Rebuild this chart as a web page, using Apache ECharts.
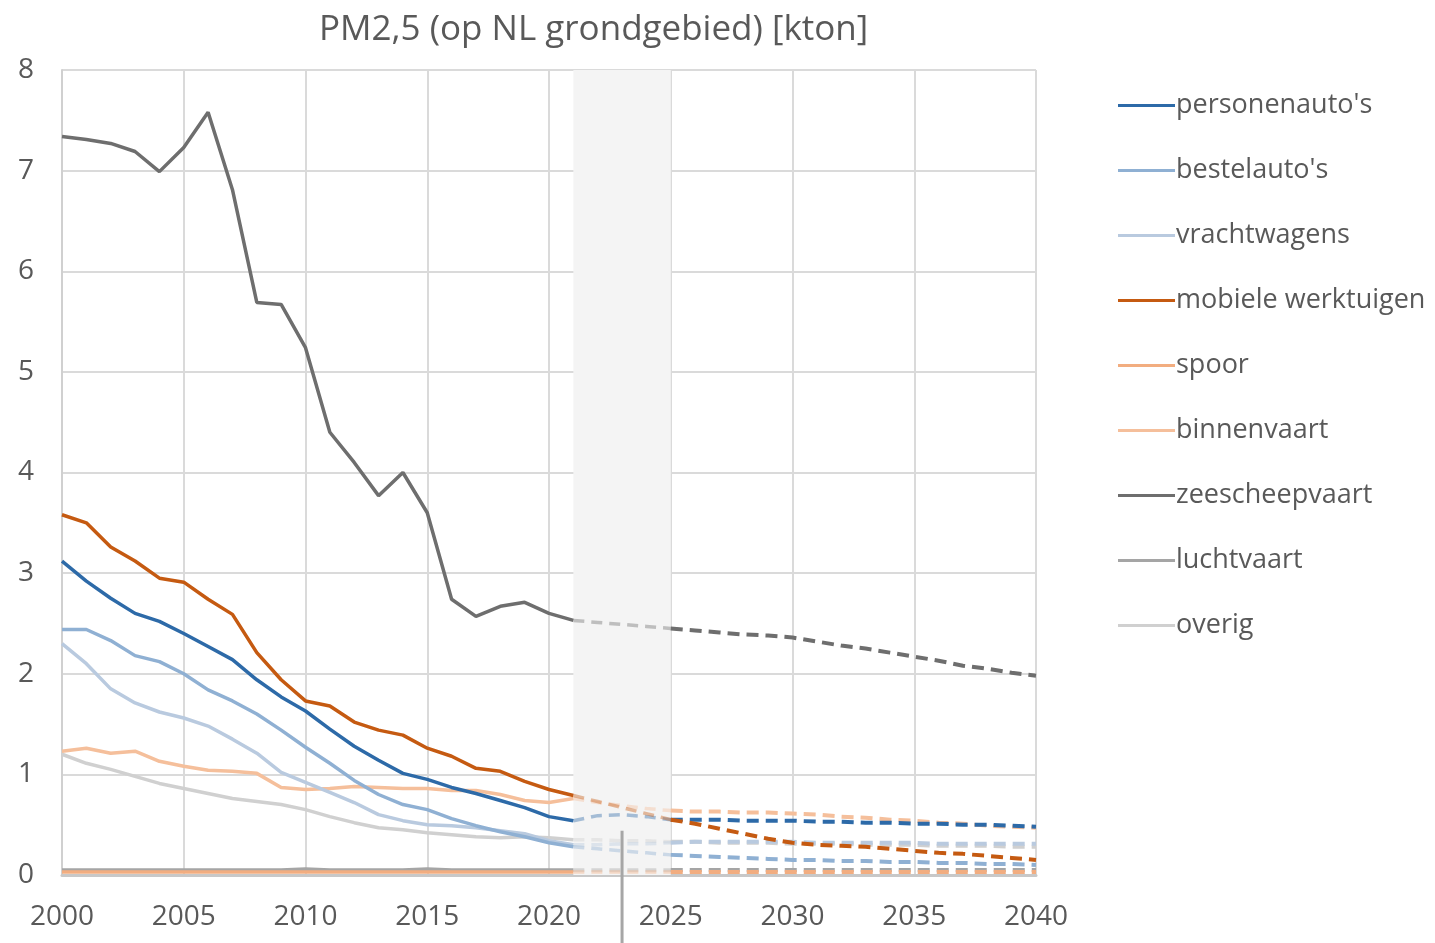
<!DOCTYPE html>
<html>
<head>
<meta charset="utf-8">
<script src="https://cdn.jsdelivr.net/npm/echarts@6/dist/echarts.min.js"></script>
<style>
  html, body { margin: 0; padding: 0; background: #fff; }
  #chart { width: 1435px; height: 943px; }
</style>
</head>
<body>
<div id="chart"></div>
<script>
  const histYears = [2000, 2001, 2002, 2003, 2004, 2005, 2006, 2007, 2008, 2009, 2010,
    2011, 2012, 2013, 2014, 2015, 2016, 2017, 2018, 2019, 2020, 2021];
  const projYears = [2021, 2022, 2023, 2024, 2025, 2026, 2027, 2028, 2029, 2030,
    2031, 2032, 2033, 2034, 2035, 2036, 2037, 2038, 2039, 2040];
  const yTicks = [0, 1, 2, 3, 4, 5, 6, 7, 8];

  // historical values 2000-2021 [kton]
  const personenautosHist = [3.12, 2.92, 2.75, 2.60, 2.52, 2.40, 2.27, 2.14, 1.94, 1.77, 1.63,
    1.45, 1.28, 1.14, 1.01, 0.95, 0.87, 0.81, 0.74, 0.67, 0.58, 0.54];
  const bestelautosHist = [2.44, 2.44, 2.33, 2.18, 2.12, 2.00, 1.84, 1.73, 1.60, 1.44, 1.27,
    1.11, 0.94, 0.80, 0.70, 0.65, 0.56, 0.49, 0.43, 0.38, 0.32, 0.28];
  const vrachtwagensHist = [2.30, 2.10, 1.85, 1.71, 1.62, 1.56, 1.48, 1.35, 1.21, 1.02, 0.92,
    0.82, 0.72, 0.60, 0.54, 0.50, 0.49, 0.47, 0.44, 0.41, 0.34, 0.30];
  const mobieleHist = [3.58, 3.50, 3.26, 3.12, 2.95, 2.91, 2.74, 2.59, 2.21, 1.94, 1.73,
    1.68, 1.52, 1.44, 1.39, 1.26, 1.18, 1.06, 1.03, 0.93, 0.85, 0.79];
  const spoorHist = [0.03, 0.03, 0.03, 0.03, 0.03, 0.03, 0.03, 0.03, 0.03, 0.03, 0.03,
    0.03, 0.03, 0.03, 0.03, 0.03, 0.03, 0.03, 0.03, 0.03, 0.03, 0.03];
  const binnenvaartHist = [1.23, 1.26, 1.21, 1.23, 1.13, 1.08, 1.04, 1.03, 1.01, 0.87, 0.85,
    0.86, 0.88, 0.87, 0.86, 0.86, 0.84, 0.84, 0.80, 0.74, 0.72, 0.76];
  const zeescheepvaartHist = [7.34, 7.31, 7.27, 7.19, 6.99, 7.23, 7.58, 6.81, 5.69, 5.67, 5.24,
    4.40, 4.10, 3.77, 4.00, 3.60, 2.74, 2.57, 2.67, 2.71, 2.60, 2.53];
  const luchtvaartHist = [0.05, 0.05, 0.05, 0.05, 0.05, 0.05, 0.05, 0.05, 0.05, 0.05, 0.06,
    0.05, 0.05, 0.05, 0.05, 0.06, 0.05, 0.05, 0.05, 0.05, 0.05, 0.05];
  const overigHist = [1.20, 1.11, 1.05, 0.98, 0.91, 0.86, 0.81, 0.76, 0.73, 0.70, 0.65,
    0.58, 0.52, 0.47, 0.45, 0.42, 0.40, 0.38, 0.37, 0.38, 0.37, 0.35];

  // projection 2021-2040 [kton]
  const personenautosProj = [0.54, 0.59, 0.60, 0.58, 0.55, 0.55, 0.55, 0.54, 0.54, 0.54,
    0.53, 0.53, 0.52, 0.52, 0.51, 0.51, 0.50, 0.50, 0.49, 0.48];
  const bestelautosProj = [0.28, 0.26, 0.24, 0.22, 0.20, 0.19, 0.18, 0.17, 0.16, 0.15,
    0.15, 0.14, 0.14, 0.13, 0.13, 0.12, 0.12, 0.11, 0.11, 0.10];
  const vrachtwagensProj = [0.30, 0.30, 0.31, 0.31, 0.32, 0.33, 0.33, 0.33, 0.33, 0.33,
    0.32, 0.32, 0.32, 0.32, 0.32, 0.31, 0.31, 0.31, 0.31, 0.31];
  const mobieleProj = [0.79, 0.73, 0.67, 0.61, 0.55, 0.51, 0.46, 0.41, 0.36, 0.32,
    0.30, 0.29, 0.28, 0.26, 0.24, 0.22, 0.21, 0.19, 0.17, 0.15];
  const spoorProj = [0.03, 0.03, 0.03, 0.03, 0.03, 0.03, 0.03, 0.03, 0.03, 0.03,
    0.03, 0.03, 0.03, 0.03, 0.03, 0.03, 0.03, 0.03, 0.03, 0.03];
  const binnenvaartProj = [0.76, 0.72, 0.69, 0.66, 0.64, 0.63, 0.63, 0.62, 0.62, 0.61,
    0.60, 0.58, 0.57, 0.55, 0.54, 0.52, 0.51, 0.49, 0.48, 0.47];
  const zeescheepvaartProj = [2.53, 2.51, 2.49, 2.47, 2.45, 2.43, 2.41, 2.39, 2.38, 2.36,
    2.32, 2.28, 2.25, 2.21, 2.17, 2.13, 2.08, 2.05, 2.01, 1.98];
  const luchtvaartProj = [0.05, 0.05, 0.05, 0.05, 0.05, 0.05, 0.05, 0.05, 0.05, 0.05,
    0.05, 0.05, 0.05, 0.05, 0.05, 0.05, 0.05, 0.05, 0.05, 0.05];
  const overigProj = [0.35, 0.35, 0.34, 0.34, 0.33, 0.33, 0.32, 0.32, 0.32, 0.31,
    0.31, 0.31, 0.30, 0.30, 0.30, 0.29, 0.29, 0.29, 0.28, 0.28];

  const bandStart = 2021;
  const bandEnd = 2025;
  const markerYear = 2023;

  const categories = [
    { name: "personenauto's", color: '#2d6aa8', hist: personenautosHist, proj: personenautosProj },
    { name: "bestelauto's", color: '#8fb0d3', hist: bestelautosHist, proj: bestelautosProj },
    { name: 'vrachtwagens', color: '#b9cadf', hist: vrachtwagensHist, proj: vrachtwagensProj },
    { name: 'mobiele werktuigen', color: '#c55a11', hist: mobieleHist, proj: mobieleProj },
    { name: 'spoor', color: '#f2ad80', hist: spoorHist, proj: spoorProj },
    { name: 'binnenvaart', color: '#f5bf9b', hist: binnenvaartHist, proj: binnenvaartProj },
    { name: 'zeescheepvaart', color: '#6e6e6e', hist: zeescheepvaartHist, proj: zeescheepvaartProj },
    { name: 'luchtvaart', color: '#a5a5a5', hist: luchtvaartHist, proj: luchtvaartProj },
    { name: 'overig', color: '#d0d0d0', hist: overigHist, proj: overigProj },
  ];

  const fontFamily = 'Open Sans';
  const textColor = '#595959';

  const chart = echarts.init(document.getElementById('chart'));

  const series = [
    {
      name: 'band',
      type: 'line',
      data: [],
      z: 1,
      markArea: {
        silent: true,
        itemStyle: { color: '#f4f4f4' },
        data: [[{ xAxis: bandStart }, { xAxis: bandEnd }]],
      },
    },
  ];

  // draw lower lines first, so the darker ones end on top
  const drawOrder = [8, 7, 4, 5, 2, 1, 0, 3, 6];
  drawOrder.forEach((idx) => {
    const c = categories[idx];
    const bandIdx = projYears.indexOf(bandEnd);
    series.push({
      name: c.name,
      type: 'line',
      symbol: 'none',
      z: 3,
      lineStyle: { color: c.color, width: 3.5 },
      itemStyle: { color: c.color },
      data: histYears.map((y, i) => [y, c.hist[i]]),
    });
    series.push({
      name: c.name + ' (overgang)',
      type: 'line',
      symbol: 'none',
      z: 2,
      lineStyle: { color: c.color, width: 3.5, type: [11, 7], opacity: 0.4 },
      data: projYears.slice(0, bandIdx + 1).map((y, i) => [y, c.proj[i]]),
    });
    series.push({
      name: c.name + ' (prognose)',
      type: 'line',
      symbol: 'none',
      z: 3,
      lineStyle: { color: c.color, width: 4, type: [12, 7] },
      data: projYears.slice(bandIdx).map((y, i) => [y, c.proj[bandIdx + i]]),
    });
  });

  chart.setOption({
    animation: false,
    backgroundColor: '#fff',
    title: {
      text: 'PM2,5 (op NL grondgebied) [kton]',
      left: 314,
      top: 8,
      textStyle: { fontFamily, fontSize: 35, fontWeight: 'normal', color: textColor },
    },
    legend: {
      data: categories.map((c) => c.name),
      orient: 'vertical',
      left: 1113,
      top: 87,
      icon: 'rect',
      itemWidth: 57,
      itemHeight: 3,
      itemGap: 38,
      textStyle: { fontFamily, fontSize: 27, color: textColor, padding: [0, 0, 0, -4] },
    },
    grid: { left: 62, right: 399, top: 70, bottom: 68 },
    xAxis: {
      type: 'value',
      min: 2000,
      max: 2040,
      interval: 5,
      axisLine: { show: true, lineStyle: { color: '#c8c8c8', width: 3 } },
      axisTick: { show: false },
      axisLabel: { fontFamily, fontSize: 28, color: textColor, margin: 28, formatter: (v) => String(v) },
      splitLine: { show: true, lineStyle: { color: '#dadada', width: 2 } },
    },
    yAxis: {
      type: 'value',
      min: yTicks[0],
      max: yTicks[yTicks.length - 1],
      interval: 1,
      axisLine: { show: true, lineStyle: { color: '#d0d0d0', width: 2 } },
      axisTick: { show: false },
      axisLabel: { fontFamily, fontSize: 28, color: textColor, margin: 28 },
      splitLine: { show: true, lineStyle: { color: '#dadada', width: 2 } },
    },
    series,
  });

  // marker line at the intermediate year, running down past the axis
  const markerTop = chart.convertToPixel({ xAxisIndex: 0, yAxisIndex: 0 }, [markerYear, 0.44]);
  chart.setOption({
    graphic: [
      {
        type: 'line',
        z: 10,
        shape: { x1: markerTop[0], y1: markerTop[1], x2: markerTop[0], y2: 943 },
        style: { stroke: '#a6a6a6', lineWidth: 3 },
      },
    ],
  });
</script>
</body>
</html>
